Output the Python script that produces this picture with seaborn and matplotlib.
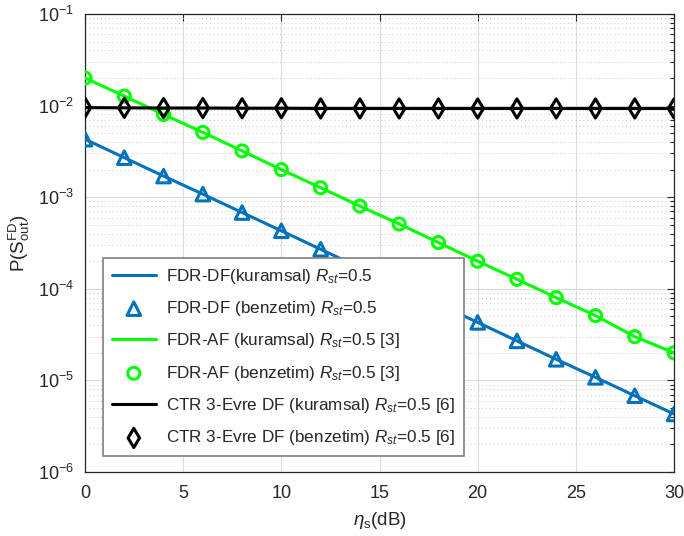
import numpy as np
import pandas as pd
import matplotlib
matplotlib.use("Agg")
import matplotlib.pyplot as plt
import seaborn as sns
from matplotlib.ticker import LogLocator, NullFormatter

snr_db = [0, 2, 4, 6, 8, 10, 12, 14, 16, 18, 20, 22, 24, 26, 28, 30]
fdr_df = [4.3e-3, 2.7e-3, 1.7e-3, 1.08e-3, 6.8e-4, 4.3e-4, 2.7e-4, 1.7e-4,
          1.08e-4, 6.8e-5, 4.3e-5, 2.7e-5, 1.7e-5, 1.08e-5, 6.8e-6, 4.3e-6]
fdr_af = [2.0e-2, 1.27e-2, 8.0e-3, 5.1e-3, 3.2e-3, 2.0e-3, 1.27e-3, 8.0e-4,
          5.1e-4, 3.2e-4, 2.0e-4, 1.27e-4, 8.0e-5, 5.1e-5, 3.0e-5, 2.0e-5]
ctr_df = [9.5e-3, 9.45e-3, 9.4e-3, 9.4e-3, 9.35e-3, 9.35e-3, 9.3e-3, 9.3e-3,
          9.3e-3, 9.3e-3, 9.3e-3, 9.3e-3, 9.3e-3, 9.3e-3, 9.3e-3, 9.3e-3]

labels = [r"FDR-DF(kuramsal) $R_{st}$=0.5",
          r"FDR-DF (benzetim) $R_{st}$=0.5",
          r"FDR-AF (kuramsal) $R_{st}$=0.5 [3]",
          r"FDR-AF (benzetim) $R_{st}$=0.5 [3]",
          r"CTR 3-Evre DF (kuramsal) $R_{st}$=0.5 [6]",
          r"CTR 3-Evre DF (benzetim) $R_{st}$=0.5 [6]"]

sns.set_theme(style="white")
plt.rcParams["font.family"] = ["Liberation Sans", "DejaVu Sans"]
plt.rcParams["mathtext.fontset"] = "custom"
plt.rcParams["mathtext.rm"] = "Liberation Sans"
plt.rcParams["mathtext.it"] = "Liberation Sans:italic"
plt.rcParams["mathtext.bf"] = "Liberation Sans:bold"

df = pd.DataFrame({"x": snr_db, "df": fdr_df, "af": fdr_af, "ctr": ctr_df})

fig = plt.figure(figsize=(6.84, 5.36), dpi=100)
ax = fig.add_axes([0.1243, 0.1194, 0.8611, 0.8545])

blue = "#0072BD"
green = "#00FF00"
black = "#000000"

series = [("df", blue, "^", 95), ("af", green, "o", 75), ("ctr", black, "d", 95)]
for i, (col, c, m, s) in enumerate(series):
    sns.lineplot(data=df, x="x", y=col, color=c, linewidth=2.2, ax=ax,
                 label=labels[2 * i], zorder=3 + i)
    sns.scatterplot(data=df, x="x", y=col, marker=m, s=s, facecolor="none",
                    edgecolor=c, linewidth=2.2, ax=ax, label=labels[2 * i + 1],
                    zorder=4 + i)

ax.set_yscale("log")
ax.set_xlim(0, 30)
ax.set_ylim(1e-6, 1e-1)
ax.set_xticks([0, 5, 10, 15, 20, 25, 30])
ax.yaxis.set_major_locator(LogLocator(base=10, numticks=10))
ax.yaxis.set_minor_locator(LogLocator(base=10, subs=np.arange(2, 10), numticks=20))
ax.yaxis.set_minor_formatter(NullFormatter())

ax.grid(True, which="major", axis="both", color="#dcdcdc", linewidth=0.8, linestyle="-")
ax.grid(True, which="minor", axis="y", color="#c8c8c8", linewidth=0.7, linestyle=(0, (1, 3)))
ax.set_axisbelow(True)

ax.tick_params(axis="both", which="both", direction="in", top=True, right=True,
               labelsize=13, colors="#262626", length=5, width=0.8)
ax.tick_params(axis="x", which="major", pad=9)
ax.tick_params(axis="y", which="major", pad=8)
ax.tick_params(axis="y", which="minor", length=3)
for sp in ax.spines.values():
    sp.set_color("#262626")
    sp.set_linewidth(0.9)

ax.set_xlabel(r"$\eta_{\rm s}$(dB)", fontsize=13.5, color="#262626", labelpad=6)
ax.set_ylabel(r"P(S$_{\rm out}^{\rm FD}$)", fontsize=13.5, color="#262626", labelpad=4)

handles, labs = ax.get_legend_handles_labels()
order = [labs.index(l) for l in labels]
leg = ax.legend([handles[k] for k in order], [labs[k] for k in order],
                loc="lower left", bbox_to_anchor=(0.0306, 0.035), borderaxespad=0,
                fontsize=12.3, frameon=True, fancybox=False, framealpha=1,
                edgecolor="#7f7f7f", handlelength=2.6, labelspacing=0.78,
                borderpad=0.5, handletextpad=0.6)
leg.get_frame().set_linewidth(1.2)

fig.savefig("out.png", dpi=100)
